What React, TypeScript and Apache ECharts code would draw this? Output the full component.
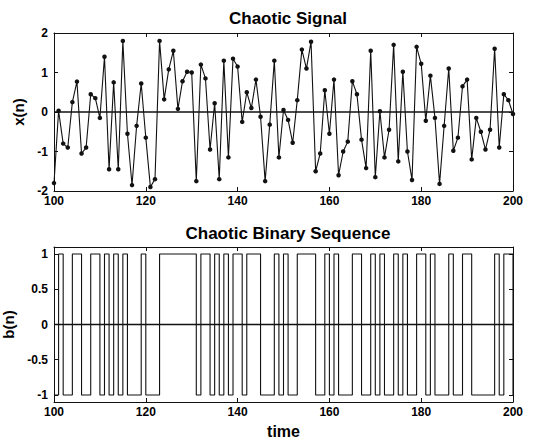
import React, { useEffect, useRef } from "react";
import * as echarts from "echarts";

const N_START = 100;
const xTickInterval = 20;

// x(n), n = 100..200
const signalValues = [
  -1.8, 0.03, -0.8, -0.9, 0.25, 0.77, -1.05, -0.9, 0.45, 0.35,
  -0.15, 1.4, -1.45, 0.75, -1.45, 1.8, -0.55, -1.85, -0.35, 0.72,
  -0.65, -1.9, -1.7, 1.8, 0.32, 1.08, 1.55, 0.08, 0.78, 1.02,
  1.0, -1.75, 1.2, 0.85, -0.95, 0.22, -1.7, 1.3, -1.15, 1.35,
  1.15, -0.25, 0.5, 0.1, 0.82, -0.12, -1.75, -0.32, 1.3, -1.15,
  0.05, -0.2, -0.78, 0.3, 1.58, 1.1, 1.78, -1.5, -1.05, 0.55,
  -0.55, 0.82, -1.6, -1.0, -0.75, 0.78, 0.45, -0.7, -1.42, 1.55,
  -1.65, 0.02, -1.15, -0.45, 1.7, -1.25, 1.02, -1.0, -1.72, 1.65,
  1.22, -0.22, 0.92, -0.15, -1.82, -0.35, 1.1, -0.98, -0.65, 0.65,
  0.82, -1.2, -0.15, -0.5, -0.95, -0.45, 1.6, -0.9, 0.45, 0.3,
  -0.05,
];

// b(n), n = 100..200
const binaryValues = [
  -1, 1, -1, -1, 1, 1, -1, -1, 1, 1,
  -1, 1, -1, 1, -1, 1, -1, -1, -1, 1,
  -1, -1, -1, 1, 1, 1, 1, 1, 1, 1,
  1, -1, 1, 1, -1, 1, -1, 1, -1, 1,
  1, -1, 1, 1, 1, -1, -1, -1, 1, -1,
  1, -1, -1, 1, 1, 1, 1, -1, -1, 1,
  -1, 1, -1, -1, -1, 1, 1, -1, -1, 1,
  -1, 1, -1, -1, 1, -1, 1, -1, -1, 1,
  1, -1, 1, -1, -1, -1, 1, -1, -1, 1,
  1, -1, -1, -1, -1, -1, 1, -1, 1, 1,
  -1,
];

const bottomYTicks = [-1, -0.5, 0, 0.5, 1];

const FONT = "'Liberation Sans', Arial, Helvetica, sans-serif";
const INK = "#111";

export default function App() {
  const ref = useRef<HTMLDivElement>(null);

  useEffect(() => {
    if (!ref.current) return;
    const chart = echarts.init(ref.current, undefined, { renderer: "svg" });

    const nEnd = N_START + signalValues.length - 1;
    const sig = signalValues.map((v, i) => [N_START + i, v]);
    const bin = binaryValues.map((v, i) => [N_START + i, v]);

    const labelStyle = { color: "#000", fontFamily: FONT, fontWeight: "bold" as const, fontSize: 12 };

    const mkX = (gridIndex: number, position: "bottom" | "top", show: boolean, extra: any = {}) => ({
      type: "value",
      gridIndex,
      position,
      min: N_START,
      max: nEnd,
      interval: xTickInterval,
      axisLine: { show: true, onZero: false, lineStyle: { color: INK, width: 1 } },
      axisTick: { show: true, inside: true, length: 4, lineStyle: { color: INK } },
      axisLabel: show ? { ...labelStyle, margin: 4 } : { show: false },
      splitLine: { show: false },
      ...extra,
    });

    const topY = (position: "left" | "right", show: boolean) => ({
      type: "value",
      gridIndex: 0,
      position,
      min: -2,
      max: 2,
      interval: 1,
      axisLine: { show: true, onZero: false, lineStyle: { color: INK, width: 1 } },
      axisTick: { show: true, inside: true, length: 4, lineStyle: { color: INK } },
      axisLabel: show ? { ...labelStyle, margin: 6 } : { show: false },
      splitLine: { show: false },
      ...(show
        ? {
            name: "x(n)",
            nameLocation: "middle",
            nameGap: 16,
            nameTextStyle: { color: "#000", fontFamily: FONT, fontWeight: "bold", fontSize: 15 },
          }
        : {}),
    });

    const bottomY = (position: "left" | "right", show: boolean) => ({
      type: "value",
      gridIndex: 1,
      position,
      min: -1.1,
      max: 1.1,
      axisLine: { show: true, onZero: false, lineStyle: { color: INK, width: 1 } },
      axisTick: { show: true, inside: true, length: 4, customValues: bottomYTicks, lineStyle: { color: INK } },
      axisLabel: show ? { ...labelStyle, margin: 6, customValues: bottomYTicks } : { show: false },
      splitLine: { show: false },
      ...(show
        ? {
            name: "b(n)",
            nameLocation: "middle",
            nameGap: 35,
            nameTextStyle: { color: "#000", fontFamily: FONT, fontWeight: "bold", fontSize: 15 },
          }
        : {}),
    });

    chart.setOption({
      animation: false,
      backgroundColor: "#fff",
      title: [
        {
          text: "Chaotic Signal",
          left: 283,
          top: 5,
          textAlign: "center",
          textStyle: { color: "#000", fontFamily: FONT, fontWeight: "bold", fontSize: 17 },
        },
        {
          text: "Chaotic Binary Sequence",
          left: 283,
          top: 220,
          textAlign: "center",
          textStyle: { color: "#000", fontFamily: FONT, fontWeight: "bold", fontSize: 17 },
        },
      ],
      grid: [
        { left: 54, right: 21, top: 33, height: 158, outerBoundsMode: "none", containLabel: false },
        { left: 54, right: 21, top: 247, height: 155, outerBoundsMode: "none", containLabel: false },
      ],
      xAxis: [
        mkX(0, "bottom", true),
        mkX(0, "top", false),
        mkX(1, "bottom", true, {
          name: "time",
          nameLocation: "middle",
          nameGap: 21,
          nameTextStyle: { color: "#000", fontFamily: FONT, fontWeight: "bold", fontSize: 16 },
        }),
        mkX(1, "top", false),
      ],
      yAxis: [topY("left", true), topY("right", false), bottomY("left", true), bottomY("right", false)],
      series: [
        {
          type: "line",
          xAxisIndex: 0,
          yAxisIndex: 0,
          data: [
            [N_START, 0],
            [nEnd, 0],
          ],
          symbol: "none",
          lineStyle: { color: INK, width: 1.4 },
          silent: true,
        },
        {
          type: "line",
          xAxisIndex: 0,
          yAxisIndex: 0,
          data: sig,
          symbol: "circle",
          symbolSize: 4.5,
          itemStyle: { color: INK },
          lineStyle: { color: INK, width: 1.1 },
        },
        {
          type: "line",
          xAxisIndex: 2,
          yAxisIndex: 2,
          data: [
            [N_START, 0],
            [nEnd, 0],
          ],
          symbol: "none",
          lineStyle: { color: INK, width: 1.4 },
          silent: true,
        },
        {
          type: "line",
          xAxisIndex: 2,
          yAxisIndex: 2,
          data: bin,
          step: "end",
          symbol: "none",
          lineStyle: { color: INK, width: 1.1 },
        },
      ],
    });

    return () => chart.dispose();
  }, []);

  return (
    <div
      ref={ref}
      style={{ position: "absolute", left: 0, top: 0, width: 534, height: 440, background: "#fff" }}
    />
  );
}
